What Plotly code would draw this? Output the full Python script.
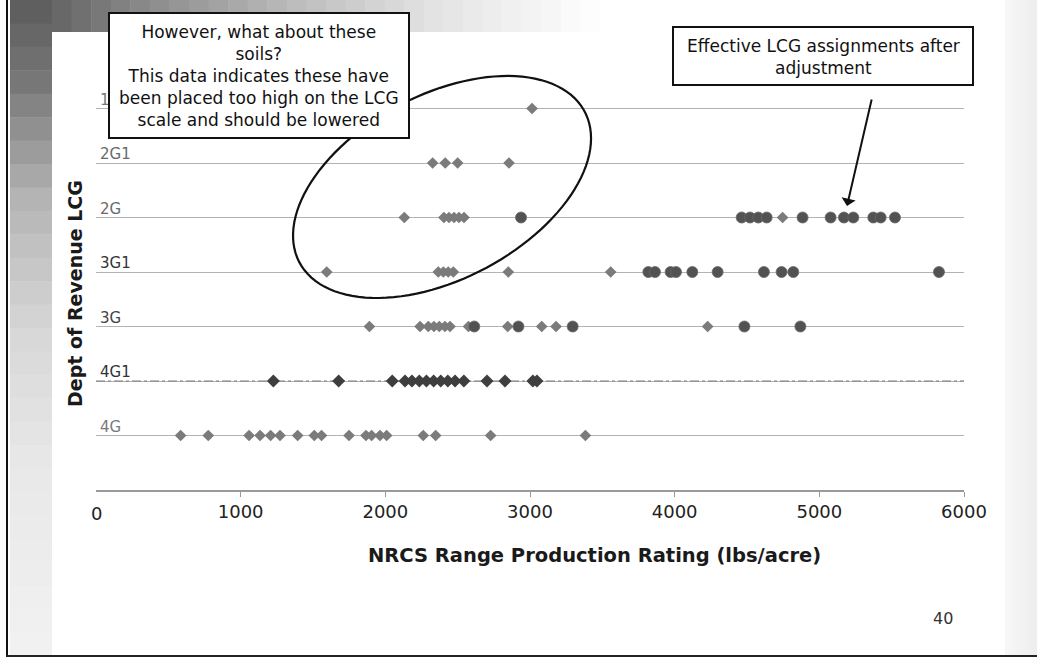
import numpy as np
import plotly.graph_objects as go

# ---------------- data ----------------
row_labels = ["4G", "4G1", "3G", "3G1", "2G", "2G1", "1G"]
row_pos = [1, 2, 3, 4, 5, 6, 7]
x_ticks = [0, 1000, 2000, 3000, 4000, 5000, 6000]

diamonds_4G = [585, 776, 1058, 1134, 1207, 1272, 1394, 1509, 1559, 1749,
               1866, 1905, 1963, 2009, 2262, 2348, 2728, 3383]
diamonds_4G1 = [1226, 1677, 2048, 2136, 2184, 2235, 2284, 2334, 2383, 2432,
                2482, 2543, 2703, 2827, 3020, 3048]
diamonds_3G = [1890, 2240, 2297, 2336, 2373, 2412, 2447, 2575, 2846, 3081, 3180, 4228]
circles_3G = [2615, 2920, 3295, 4482, 4869]
diamonds_3G1 = [1595, 2366, 2401, 2435, 2470, 2850, 3558]
circles_3G1 = [3818, 3864, 3972, 4009, 4122, 4297, 4617, 4739, 4820, 5827]
diamonds_2G = [2131, 2405, 2440, 2475, 2509, 2544, 4746]
circles_2G = [2938, 4463, 4521, 4578, 4636, 4884, 5078, 5170, 5235, 5373, 5424, 5523]
diamonds_2G1 = [2327, 2414, 2500, 2855]
diamonds_1G = [3014]


def ypos(label):
    return row_pos[row_labels.index(label)]


grey_diamond_rows = [("4G", diamonds_4G), ("3G", diamonds_3G), ("3G1", diamonds_3G1),
                     ("2G", diamonds_2G), ("2G1", diamonds_2G1), ("1G", diamonds_1G)]
circle_rows = [("3G", circles_3G), ("3G1", circles_3G1), ("2G", circles_2G)]

FONT = "DejaVu Sans"

# ---------------- layout geometry (pixels) ----------------
W, H = 1037, 664
ML, MR, MT, MB = 96, 73, 54, 174
PW, PH = W - ML - MR, H - MT - MB


def px(xp):
    return (xp - ML) / PW


def py(yp):
    return (H - MB - yp) / PH


fig = go.Figure()

gx, gy = [], []
for lab, vals in grey_diamond_rows:
    gx += vals
    gy += [ypos(lab)] * len(vals)
fig.add_trace(go.Scatter(x=gx, y=gy, mode="markers", showlegend=False,
                         marker=dict(symbol="diamond", size=9, color="#7b7b7b",
                                     line=dict(width=0))))
fig.add_trace(go.Scatter(x=diamonds_4G1, y=[ypos("4G1")] * len(diamonds_4G1),
                         mode="markers", showlegend=False,
                         marker=dict(symbol="diamond", size=10, color="#3e3e3e",
                                     line=dict(width=0))))
cx_, cy_ = [], []
for lab, vals in circle_rows:
    cx_ += vals
    cy_ += [ypos(lab)] * len(vals)
fig.add_trace(go.Scatter(x=cx_, y=cy_, mode="markers", showlegend=False,
                         marker=dict(symbol="circle", size=11, color="#525252",
                                     line=dict(width=0.8, color="#6a6a6a"))))

shapes = []


def rect(x0, y0, x1, y1, color, layer="below"):
    shapes.append(dict(type="rect", xref="paper", yref="paper",
                       x0=px(x0), x1=px(x1), y0=py(y1), y1=py(y0),
                       fillcolor=color, line=dict(width=0), layer=layer))


def grey(v):
    v = int(max(0, min(255, v)))
    return f"rgb({v},{v},{v})"


# slide decoration: light right shading
rect(0, 0, W, H, "#ffffff")
n = 8
for i in range(n):
    x0 = 1005 + i * 32 / n
    v = np.interp((i + 0.5) / n, [0, 1], [248, 238])
    rect(x0, 0, x0 + 32 / n + 0.5, 656, grey(v))
# left gradient band (vertical gradient)
n = 28
for i in range(n):
    y0 = i * 656 / n
    y1 = (i + 1) * 656 / n
    t = (i + 0.5) / n
    v = np.interp(t, [0, 0.12, 0.3, 0.5, 0.7, 1.0], [92, 118, 180, 215, 232, 242])
    rect(10, y0, 52, y1 + 0.5, grey(v))
# top gradient band (horizontal gradient)
n = 28
for i in range(n):
    x0 = 52 + i * (600 - 52) / n
    x1 = 52 + (i + 1) * (600 - 52) / n
    t = (i + 0.5) / n
    v = np.interp(t, [0, 0.15, 0.45, 0.7, 1.0], [100, 135, 190, 228, 255])
    rect(x0, 0, x1 + 0.5, 32, grey(v))
# border lines
shapes.append(dict(type="line", xref="paper", yref="paper", x0=px(7), x1=px(7),
                   y0=py(0), y1=py(657), line=dict(color="#111111", width=2), layer="below"))
shapes.append(dict(type="line", xref="paper", yref="paper", x0=px(7), x1=px(W),
                   y0=py(656), y1=py(656), line=dict(color="#222222", width=2), layer="below"))

# dash-dot line on the 4G1 row
shapes.append(dict(type="line", xref="x", yref="y", x0=0, x1=6000,
                   y0=ypos("4G1"), y1=ypos("4G1"),
                   line=dict(color="#7a7a7a", width=1.2, dash="dashdot"), layer="between"))

# ellipse around the "too high" soils (annotation, in data units)
e_cx, e_cy = 2392, 5.56
e_xh, e_yh, e_rho = 1030, 2.037, 0.438
t = np.linspace(0, 2 * np.pi, 120)
ex = e_cx + e_xh * np.cos(t)
ey = e_cy + e_yh * (e_rho * np.cos(t) + np.sqrt(1 - e_rho ** 2) * np.sin(t))
path = "M " + " L ".join(f"{a:.2f},{b:.4f}" for a, b in zip(ex, ey)) + " Z"
shapes.append(dict(type="path", xref="x", yref="y", path=path,
                   line=dict(color="#111111", width=2.2), layer="above"))

# callout boxes
shapes.append(dict(type="rect", xref="paper", yref="paper",
                   x0=px(109), x1=px(409), y0=py(138), y1=py(13),
                   fillcolor="white", line=dict(color="#111111", width=2), layer="above"))
shapes.append(dict(type="rect", xref="paper", yref="paper",
                   x0=px(673), x1=px(973), y0=py(85), y1=py(27),
                   fillcolor="white", line=dict(color="#111111", width=2), layer="above"))

label_colors = ["#7a7a7a", "#333333", "#444444", "#333333", "#6a6a6a", "#6a6a6a", "#777777"]
ticktext = [f"<span style='color:{c}'>{l}</span>" for l, c in zip(row_labels, label_colors)] + [""]

annotations = [
    dict(xref="paper", yref="paper", x=px(259), y=py(76), xanchor="center", yanchor="middle",
         showarrow=False, align="center",
         text="However, what about these<br>soils?<br>This data indicates these have<br>"
              "been placed too high on the LCG<br>scale and should be lowered",
         font=dict(family=FONT, size=17, color="#111111")),
    dict(xref="paper", yref="paper", x=px(823), y=py(57), xanchor="center", yanchor="middle",
         showarrow=False, align="center",
         text="Effective LCG assignments after<br>adjustment",
         font=dict(family=FONT, size=17, color="#111111")),
    dict(xref="paper", yref="paper", x=px(847), y=py(206), text="", showarrow=True,
         ax=25, ay=-108, axref="pixel", ayref="pixel", arrowhead=1, arrowsize=1.2,
         arrowwidth=2, arrowcolor="#111111"),
    dict(xref="paper", yref="paper", x=px(594), y=py(555), xanchor="center", yanchor="middle",
         showarrow=False, text="NRCS Range Production Rating (lbs/acre)",
         font=dict(family=FONT, size=19.5, color="#1a1a1a", weight="bold")),
    dict(xref="paper", yref="paper", x=px(75), y=py(294), xanchor="center", yanchor="middle",
         showarrow=False, text="Dept of Revenue LCG", textangle=-90,
         font=dict(family=FONT, size=19, color="#1a1a1a", weight="bold")),
    dict(xref="x", yref="paper", x=x_ticks[0], y=py(513), xanchor="center", yanchor="middle",
         showarrow=False, text=str(x_ticks[0]),
         font=dict(family=FONT, size=18, color="#222222")),
    dict(xref="paper", yref="paper", x=px(943), y=py(618), xanchor="center", yanchor="middle",
         showarrow=False, text="40", font=dict(family=FONT, size=16, color="#333333")),
]

fig.update_layout(
    width=W, height=H, autosize=False,
    margin=dict(l=ML, r=MR, t=MT, b=MB, pad=0),
    paper_bgcolor="white", plot_bgcolor="rgba(0,0,0,0)",
    showlegend=False,
    shapes=shapes, annotations=annotations,
    xaxis=dict(range=[0, 6000], tickvals=x_ticks, ticktext=[str(v) for v in x_ticks],
               showgrid=False, zeroline=False, showline=True, linecolor="#9a9a9a",
               linewidth=1.5, ticks="outside", ticklen=5, tickcolor="#9a9a9a",
               tickfont=dict(family=FONT, size=18, color="#222222")),
    yaxis=dict(range=[0, 8], tickvals=row_pos + [8], ticktext=ticktext,
               showgrid=True, gridcolor="#b3b3b3", gridwidth=1, zeroline=False,
               showline=False, ticks="", ticklabelposition="inside",
               ticklabelshift=-9, ticklabelstandoff=1,
               tickfont=dict(family=FONT, size=15, color="#555555")),
)

fig.write_html("out.html")
